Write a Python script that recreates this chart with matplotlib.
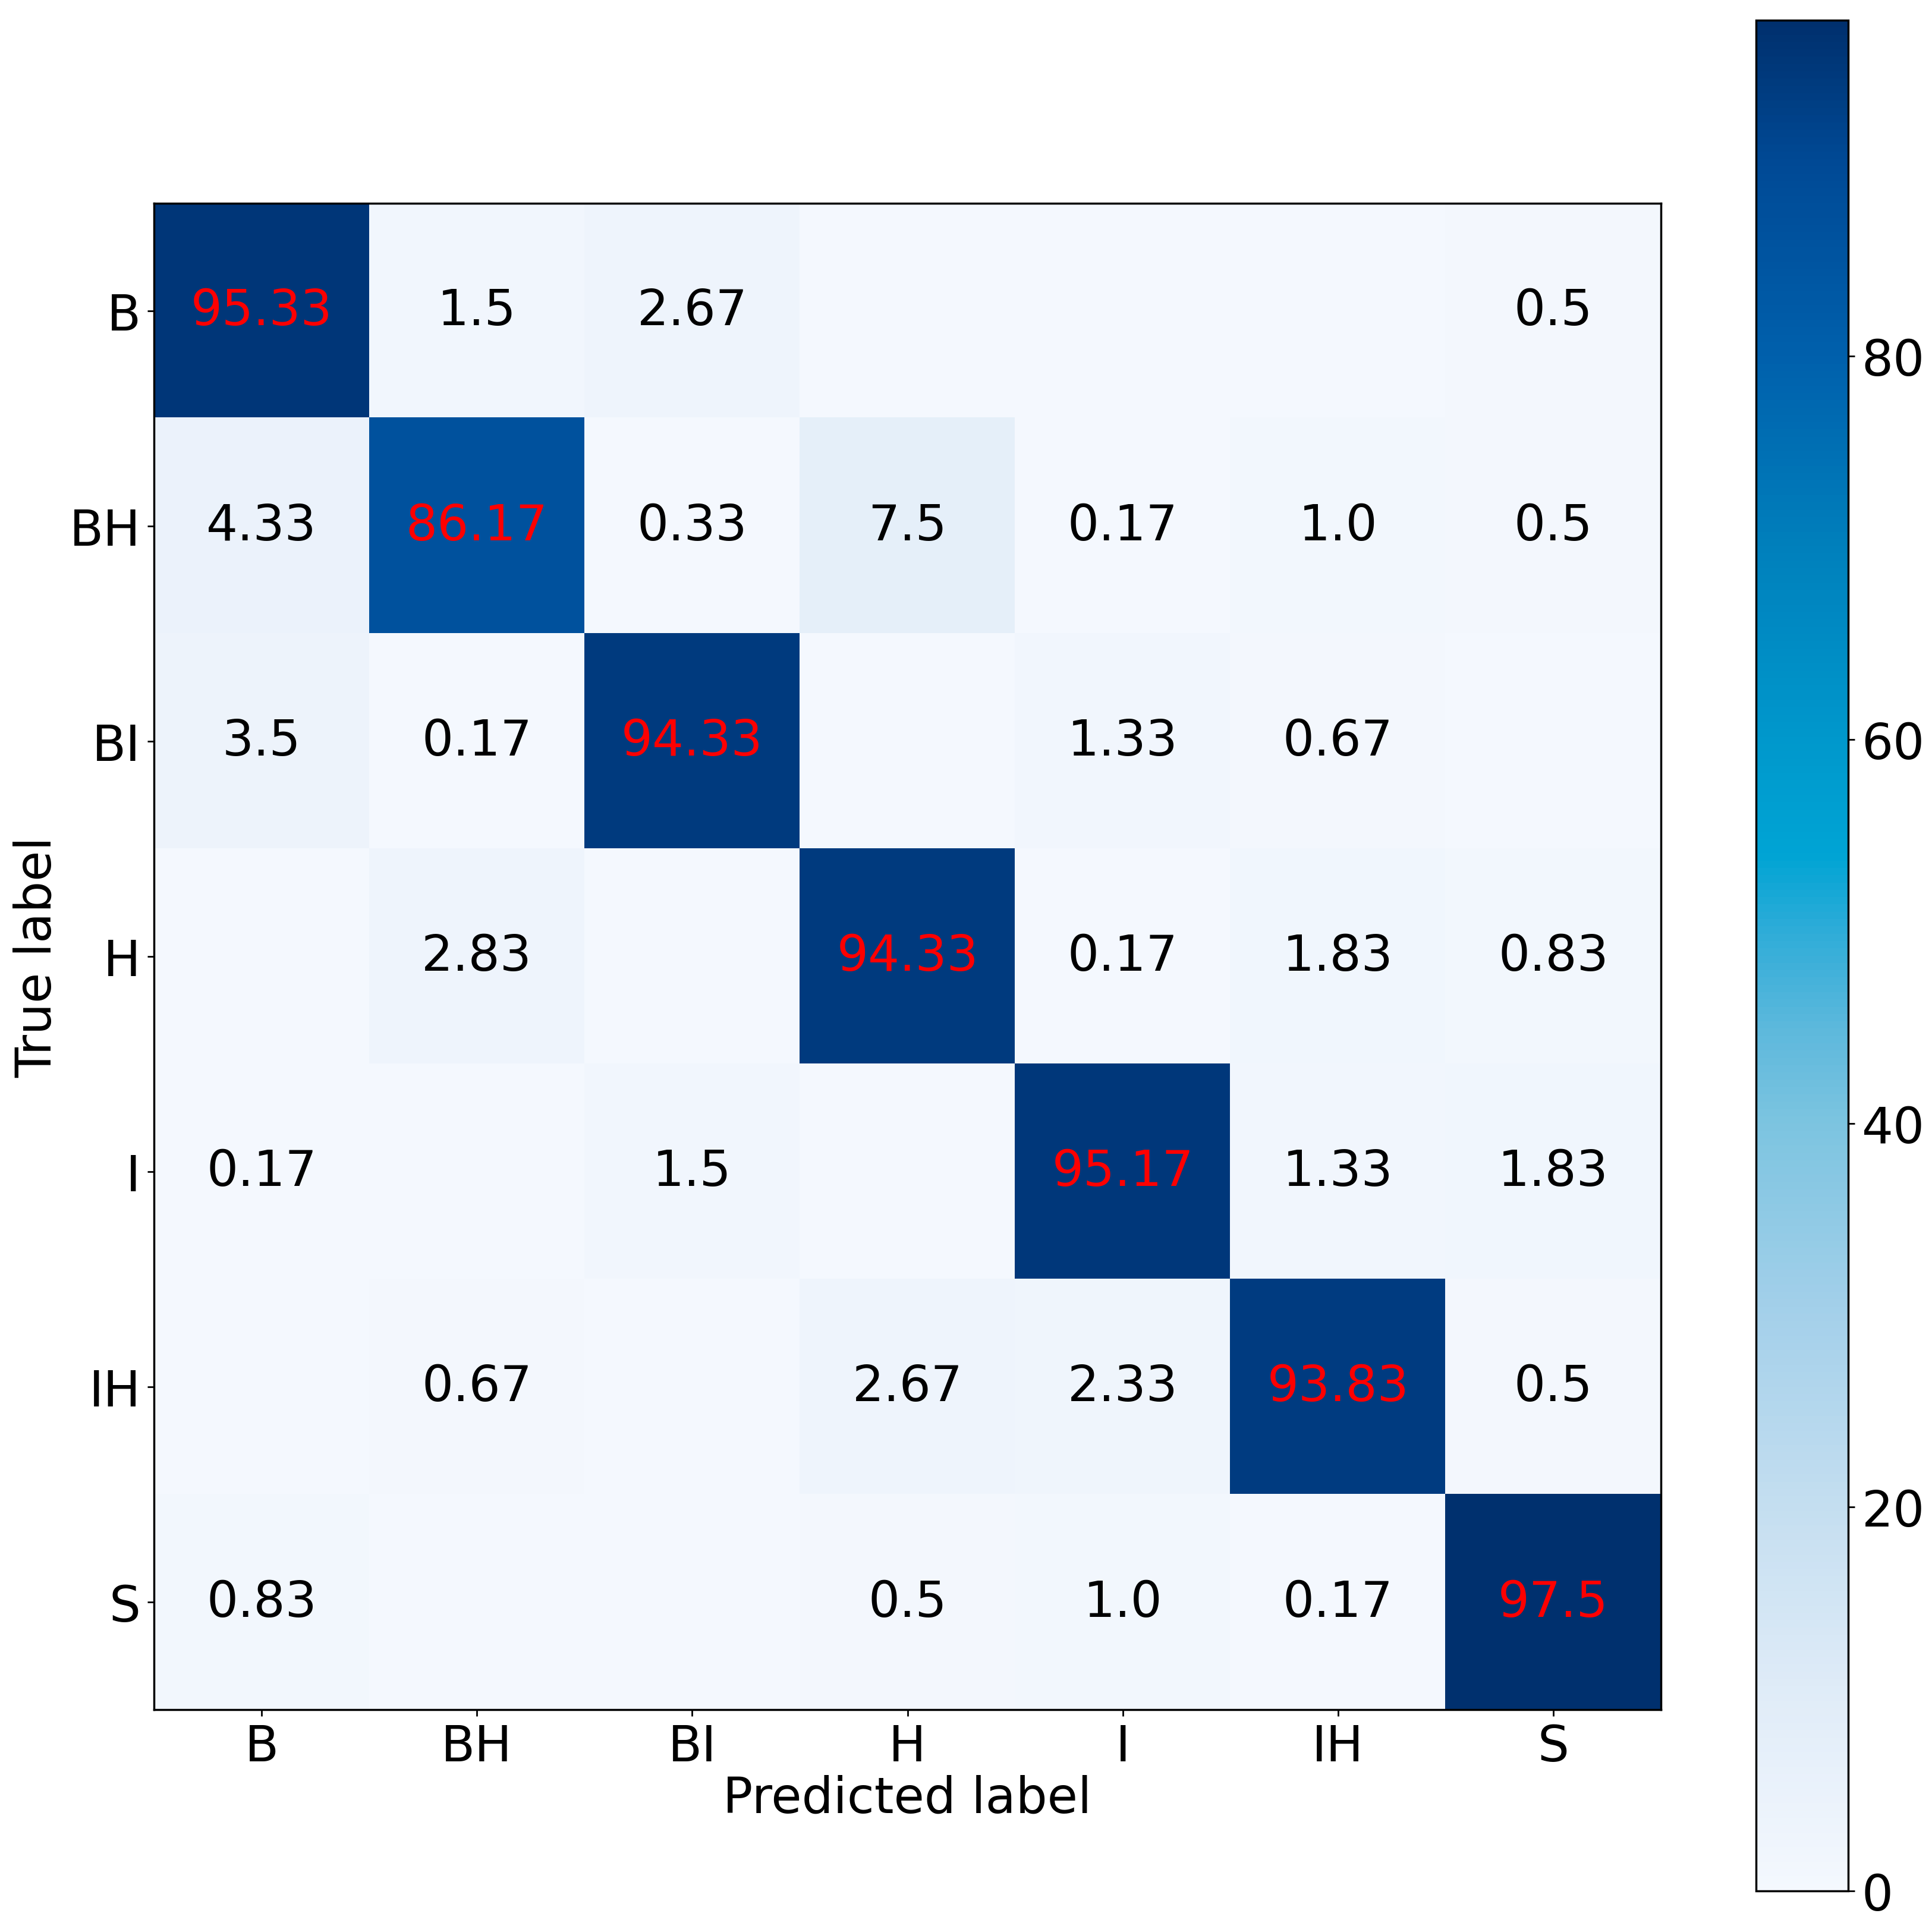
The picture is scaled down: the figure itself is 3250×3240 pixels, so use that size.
import numpy as np
import matplotlib
matplotlib.use('Agg')
import matplotlib.pyplot as plt
from matplotlib.colors import LinearSegmentedColormap

classes = ['B', 'BH', 'BI', 'H', 'I', 'IH', 'S']

# rows = true label, cols = predicted label (percent)
row_B  = [95.33, 1.5, 2.67, 0.0, 0.0, 0.0, 0.5]
row_BH = [4.33, 86.17, 0.33, 7.5, 0.17, 1.0, 0.5]
row_BI = [3.5, 0.17, 94.33, 0.0, 1.33, 0.67, 0.0]
row_H  = [0.0, 2.83, 0.0, 94.33, 0.17, 1.83, 0.83]
row_I  = [0.17, 0.0, 1.5, 0.0, 95.17, 1.33, 1.83]
row_IH = [0.0, 0.67, 0.0, 2.67, 2.33, 93.83, 0.5]
row_S  = [0.83, 0.0, 0.0, 0.5, 1.0, 0.17, 97.5]

cm = np.array([row_B, row_BH, row_BI, row_H, row_I, row_IH, row_S])
vmax = cm.max()

# colour ramp as it appears in the picture (a more cyan "Blues")
ramp_vals = [0, 10, 20, 30, 40, 45, 50, 54, 60, 70, 80, 90, 97.5]
ramp_cols = ['#f4f8fe', '#e0ecf8', '#c4def0', '#a4d0ea', '#7cc4e0', '#5cb8dc',
             '#2eacd8', '#00a4d4', '#0098cc', '#0080bc', '#0060ac', '#004a96', '#00306e']
cmap = LinearSegmentedColormap.from_list(
    'blues_pic', [(v / vmax, c) for v, c in zip(ramp_vals, ramp_cols)])

plt.rcParams.update({'font.size': 60, 'font.family': 'DejaVu Sans'})

fig = plt.figure(figsize=(32.5, 32.41), dpi=100)
ax = fig.add_axes([0.0797, 0.1123, 0.78, 0.782])
cax = fig.add_axes([0.909, 0.0182, 0.0477, 0.971])

im = ax.imshow(cm, cmap=cmap, vmin=0, vmax=vmax, interpolation='nearest', aspect='auto')

for i in range(cm.shape[0]):
    for j in range(cm.shape[1]):
        if cm[i, j] == 0:
            continue
        col = 'red' if i == j else 'black'
        ax.text(j, i, str(cm[i, j]), ha='center', va='center', color=col, fontsize=60)

ax.set_xticks(np.arange(len(classes)))
ax.set_yticks(np.arange(len(classes)))
ax.set_xticklabels(classes)
ax.set_yticklabels(classes)
ax.set_xlabel('Predicted label', labelpad=4)
ax.set_ylabel('True label', labelpad=10)
ax.tick_params(length=8, width=2, pad=8)
for s in ax.spines.values():
    s.set_linewidth(2.5)

cb = fig.colorbar(im, cax=cax)
cb.set_ticks([0, 20, 40, 60, 80])
cb.ax.tick_params(length=8, width=2, pad=8, labelsize=60)
cb.outline.set_linewidth(2.5)

plt.savefig('out.png', dpi=100)
